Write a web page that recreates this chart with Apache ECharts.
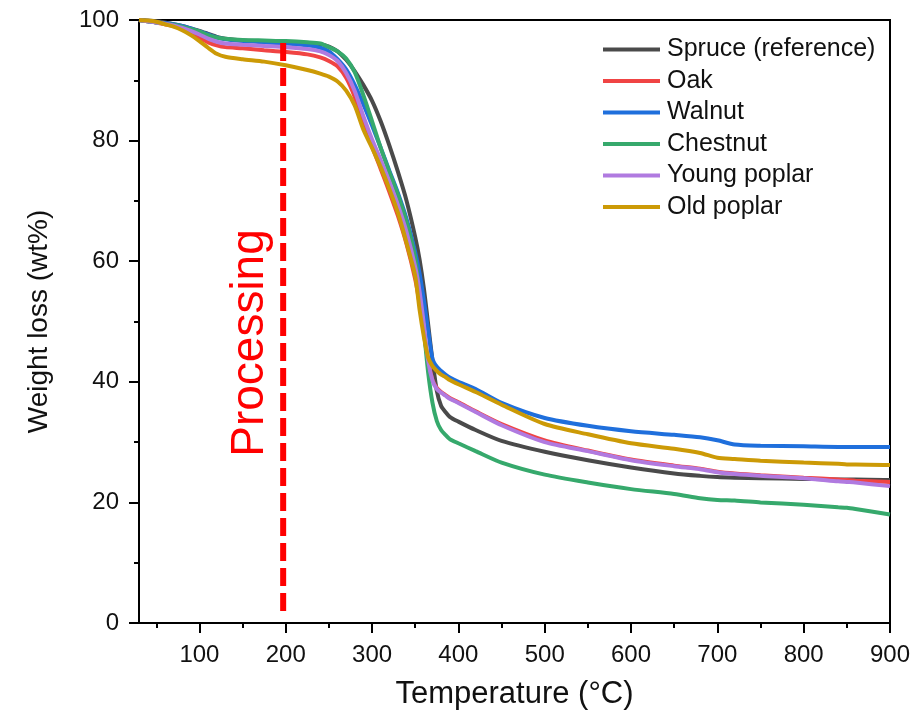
<!DOCTYPE html>
<html>
<head>
<meta charset="utf-8">
<script src="https://cdn.jsdelivr.net/npm/echarts@6/dist/echarts.min.js"></script>
<style>
html,body{margin:0;padding:0;background:#fff;}
#chart{width:914px;height:718px;}
</style>
</head>
<body>
<div id="chart"></div>
<script>
const temps = [30,40,50,60,70,80,90,100,110,120,130,150,175,200,225,240,250,260,270,280,290,300,310,320,330,340,350,355,360,365,370,375,380,385,390,400,420,450,500,550,600,650,680,700,720,750,800,840,850,860,900];

const spruce = [100,99.9,99.8,99.6,99.3,99,98.6,98.2, 97.7,97.2,96.9,96.6,96.5,96.3, 96.1,96.0,95.6,94.8,93.4,91.5,89.2,86.6, 83.2,79.2,74.8,70,64,60.3,55.5,49.5,43.5,38.5,36,35,34.2,33.4, 32,30.2,28.4,27,25.8,24.8,24.4,24.2,24.1,24, 23.9,23.8,23.8,23.8,23.7];
const oak = [100,99.8,99.6,99.3,99,98.5,97.8,97, 96.3,95.8,95.5,95.3,95,94.7, 94.3,93.8,93.2,92.3,90.4,87.2,83,79, 75.3,71.5,67.5,62.8,57,53,48.2,43.5,40.3,39,38.3,37.8,37.3,36.6, 35.1,33,30.3,28.6,27.1,26.1,25.6,25.1,24.8,24.5, 24.1,23.8,23.7,23.6,23.4];
const walnut = [100,99.8,99.6,99.5,99.3,99,98.6,98.1, 97.6,97.1,96.8,96.5,96.3,96.1, 95.8,95.4,94.8,93.5,91.8,89.2,86,82.5, 78.8,75,71.3,67,61.5,58,53.5,48.5,43.8,42.5,41.8,41.2,40.7,40, 38.8,36.5,34,32.7,31.8,31.2,30.8,30.3,29.6,29.4, 29.3,29.2,29.2,29.2,29.2];
const chestnut = [100,99.8,99.6,99.4,99.2,98.9,98.5,98.1, 97.5,97.1,96.9,96.7,96.6,96.5, 96.3,96.1,95.5,94.8,93.6,91.3,87.5,83.2, 78.8,74.8,71,66.5,60.5,54.5,48.5,41.5,36.5,33.5,32,31.2,30.5,29.8, 28.5,26.6,24.6,23.3,22.2,21.4,20.7,20.4,20.3,20, 19.6,19.2,19.1,18.9,18];
const youngPoplar = [100,99.8,99.6,99.4,99.1,98.7,98.2,97.6, 96.9,96.4,96.1,95.9,95.7,95.5, 95.2,94.8,94.2,93.2,91.2,88.2,84,80.2, 76.8,73.2,69.3,64.8,59,55,49.5,43.5,40.2,38.8,38.2,37.7,37.2,36.5, 35,32.8,30,28.5,27,26,25.5,25,24.7,24.4, 24,23.5,23.4,23.3,22.7];
const oldPoplar = [100,99.9,99.7,99.3,98.9,98.3,97.5,96.5, 95.4,94.4,93.9,93.5,93.1,92.5, 91.7,91.1,90.6,89.8,88.3,85.8,81.8,78.8, 75.6,72,68,63,57.5,52,47.5,44,42.6,41.8,41.2,40.8,40.3,39.6, 38.3,36.2,33,31.3,29.8,28.9,28.2,27.4,27.2,26.9, 26.6,26.4,26.3,26.3,26.2];

const seriesNames = ['Spruce (reference)','Oak','Walnut','Chestnut','Young poplar','Old poplar'];
const seriesValues = [spruce, oak, walnut, chestnut, youngPoplar, oldPoplar];
const seriesColors = ['#4a4a4a','#f04444','#1f6fdc','#36a96c','#b07ae0','#cc9a06'];

const processingX = [197, 197];
const processingY = [96.2, 1.8];
const processingLabel = 'Processing';

const xMajorTicks = [100,200,300,400,500,600,700,800,900];
const xMinorTicks = [50,150,250,350,450,550,650,750,850];

const FONT = 'Liberation Sans, Arial, sans-serif';

const chart = echarts.init(document.getElementById('chart'), null, {renderer:'canvas'});

const series = seriesNames.map((name, k) => ({
  name: name,
  type: 'line',
  xAxisIndex: 0,
  yAxisIndex: 0,
  showSymbol: false,
  smooth: 0.25,
  lineStyle: {width: 4, color: seriesColors[k]},
  itemStyle: {color: seriesColors[k]},
  data: temps.map((t, i) => [t, seriesValues[k][i]]),
  z: 2 + k
}));

series.push({
  name: 'processing',
  type: 'line',
  xAxisIndex: 0,
  yAxisIndex: 0,
  showSymbol: false,
  lineStyle: {width: 6, color: '#ff0000', type: [18, 7]},
  data: processingX.map((x, i) => [x, processingY[i]]),
  z: 20
});

const option = {
  animation: false,
  backgroundColor: '#fff',
  grid: {left: 139, right: 24, top: 20, bottom: 95, show: true, borderColor: '#000', borderWidth: 2, backgroundColor: 'transparent'},
  legend: {
    data: seriesNames,
    orient: 'vertical',
    left: 603,
    top: 37,
    padding: 0,
    itemWidth: 57,
    itemHeight: 4,
    itemGap: 6.5,
    icon: 'rect',
    textStyle: {fontFamily: FONT, fontSize: 25, color: '#111', padding: [0,0,0,2]}
  },
  xAxis: [{
    type: 'value', min: 30, max: 900,
    position: 'bottom',
    name: 'Temperature (°C)', nameLocation: 'middle', nameGap: 56,
    nameTextStyle: {fontFamily: FONT, fontSize: 31, color: '#111'},
    axisLine: {show: true, lineStyle: {color: '#000', width: 2}},
    axisTick: {show: true, customValues: xMajorTicks, length: 10, lineStyle: {color: '#000', width: 2}},
    axisLabel: {customValues: xMajorTicks, fontFamily: FONT, fontSize: 24, color: '#111', margin: 20},
    splitLine: {show: false}
  }, {
    type: 'value', min: 30, max: 900,
    position: 'bottom',
    axisLine: {show: false},
    axisTick: {show: true, customValues: xMinorTicks, length: 5, lineStyle: {color: '#000', width: 2}},
    axisLabel: {show: false},
    splitLine: {show: false}
  }],
  yAxis: [{
    type: 'value', min: 0, max: 100, interval: 20,
    name: 'Weight loss (wt%)', nameLocation: 'middle', nameGap: 86,
    nameTextStyle: {fontFamily: FONT, fontSize: 28, color: '#111'},
    axisLine: {show: true, lineStyle: {color: '#000', width: 2}},
    axisTick: {show: true, length: 10, lineStyle: {color: '#000', width: 2}},
    minorTick: {show: true, splitNumber: 2, length: 5, lineStyle: {color: '#000', width: 2}},
    axisLabel: {fontFamily: FONT, fontSize: 24, color: '#111', margin: 20},
    splitLine: {show: false},
    minorSplitLine: {show: false}
  }],
  graphic: [{
    type: 'text',
    x: 250, y: 343,
    rotation: Math.PI / 2,
    style: {text: processingLabel, fill: '#ff0000', font: '46px ' + FONT, textAlign: 'center', textVerticalAlign: 'middle'},
    z: 30
  }],
  series: series
};
chart.setOption(option);
</script>
</body>
</html>
